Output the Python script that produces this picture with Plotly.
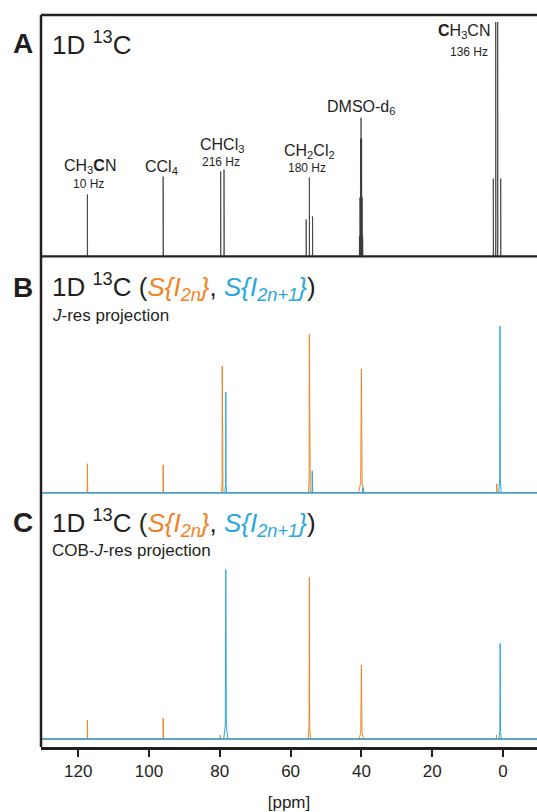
import plotly.graph_objects as go

# ---------------- data ----------------
x_ticks = [120, 100, 80, 60, 40, 20, 0]
x_tick_labels = ["120", "100", "80", "60", "40", "20", "0"]

# Panel A : 1D 13C spectrum (ppm, relative intensity, half line width in ppm)
a_ppm = [117.4, 96.0, 79.75, 78.8, 55.6, 54.7, 53.8,
         40.55, 40.4, 40.25, 40.1, 39.95, 39.8, 39.65,
         2.74, 2.06, 1.50, 0.65]
a_int = [62, 80, 85, 87, 37, 79, 40,
         20, 59, 118, 139, 118, 59, 20,
         78, 235, 235, 78]
a_wid = [0.06, 0.06, 0.06, 0.06, 0.06, 0.06, 0.06,
         0.08, 0.08, 0.08, 0.08, 0.08, 0.08, 0.08,
         0.06, 0.06, 0.06, 0.06]

# Panel B : J-res projection, S{I_2n} (orange) and S{I_2n+1} (blue)
b_or_ppm = [117.4, 96.0, 79.3, 54.7, 40.0, 1.75]
b_or_int = [29, 28, 127, 159, 124, 9]
b_or_wid = [0.1, 0.1, 0.2, 0.25, 0.8, 0.1]
b_bl_ppm = [78.3, 53.9, 39.6, 0.85]
b_bl_int = [101, 22, 5, 167]
b_bl_wid = [0.3, 0.15, 0.4, 0.35]

# Panel C : COB-J-res projection
c_or_ppm = [117.4, 96.0, 79.9, 54.7, 40.0, 1.85]
c_or_int = [19, 21, 4, 162, 74, 4]
c_or_wid = [0.1, 0.1, 0.2, 0.35, 0.7, 0.1]
c_bl_ppm = [78.3, 0.8]
c_bl_int = [170, 96]
c_bl_wid = [0.6, 0.35]

# peak labels in panel A
lab_text = ["CH<sub>3</sub><b>C</b>N", "CCl<sub>4</sub>", "CHCl<sub>3</sub>",
            "CH<sub>2</sub>Cl<sub>2</sub>", "DMSO-d<sub>6</sub>"]
lab_ppm = [116.7, 96.6, 79.4, 54.8, 40.1]
lab_ypx = [167, 168, 146, 152, 108]
j_text = ["10 Hz", "216 Hz", "180 Hz"]
j_ppm = [117.0, 79.7, 55.4]
j_ypx = [184, 162, 168]

# ---------------- styling ----------------
ORANGE = "#F08424"
BLUE = "#29A8E0"
INK = "#231F20"
FONT = "Liberation Sans, Arial, Helvetica, sans-serif"
X_RANGE = [130.5, -9.6]

W, H = 537, 812
L, R, T, B = 41, 0, 15, 63
PH = H - T - B


def py(ypx):
    # ypx: page pixel row -> paper fraction
    return (H - B - ypx) / PH


def pxx(xpx):
    return (xpx - L) / (W - L - R)


def spectrum(ppm, inten, wid):
    xs, ys = [], []
    for p, h, w in zip(ppm, inten, wid):
        xs += [p + w, p + w * 0.25, p, p - w * 0.25, p - w, None]
        ys += [0, h * 0.08, h, h * 0.08, 0, None]
    return xs, ys


fig = go.Figure()


def add_spec(ppm, inten, wid, color, yaxis, lw=1.0, base_w=1.5, base_color=None):
    fig.add_trace(go.Scatter(x=X_RANGE, y=[0, 0], mode="lines", yaxis=yaxis,
                             line=dict(color=base_color or color, width=base_w),
                             hoverinfo="skip", showlegend=False))
    xs, ys = spectrum(ppm, inten, wid)
    fig.add_trace(go.Scatter(x=xs, y=ys, mode="lines", yaxis=yaxis,
                             line=dict(color=color, width=lw),
                             hoverinfo="skip", showlegend=False))


add_spec(a_ppm, a_int, a_wid, "#3a3a3a", "y", lw=0.8, base_w=2.2, base_color="#222222")
add_spec(b_or_ppm, b_or_int, b_or_wid, ORANGE, "y2")
add_spec(b_bl_ppm, b_bl_int, b_bl_wid, BLUE, "y2")
add_spec(c_or_ppm, c_or_int, c_or_wid, ORANGE, "y3")
add_spec(c_bl_ppm, c_bl_int, c_bl_wid, BLUE, "y3")

dC = [0, py(497)]
dB = [py(497), py(260)]
dA = [py(260), 1]

fig.update_layout(
    width=W, height=H,
    margin=dict(l=L, r=R, t=T, b=B),
    paper_bgcolor="white", plot_bgcolor="white",
    font=dict(family=FONT, color=INK),
    xaxis=dict(range=X_RANGE, anchor="y3", showgrid=False, zeroline=False,
               showline=True, linewidth=2.5, linecolor=INK,
               ticks="outside", ticklen=7, tickwidth=2, tickcolor=INK,
               tickvals=x_ticks, ticktext=x_tick_labels,
               tickfont=dict(size=17, color=INK, family=FONT),
               title=dict(text="[ppm]", font=dict(size=17, color=INK, family=FONT),
                          standoff=19)),
    yaxis=dict(domain=dA, range=[-3, 242], visible=False, anchor="x"),
    yaxis2=dict(domain=dB, range=[-3, 234], visible=False, anchor="x"),
    yaxis3=dict(domain=dC, range=[-8, 244], visible=False, anchor="x"),
    shapes=[
        dict(type="line", xref="paper", yref="paper", x0=0, x1=0, y0=0, y1=1,
             line=dict(color=INK, width=2.5)),
        dict(type="line", xref="paper", yref="paper", x0=0, x1=1, y0=1, y1=1,
             line=dict(color=INK, width=2.5)),
    ],
)

ann = []
# panel letters
for letter, ypx in zip(["A", "B", "C"], [44, 288, 524]):
    ann.append(dict(text="<b>%s</b>" % letter, xref="paper", yref="paper",
                    x=pxx(23), y=py(ypx), xanchor="center", yanchor="middle",
                    showarrow=False, font=dict(size=28, color=INK, family=FONT)))
# titles
ann.append(dict(text="1D <sup>13</sup>C", xref="paper", yref="paper",
                x=pxx(50), y=py(44), xanchor="left", yanchor="middle",
                showarrow=False, font=dict(size=26, color=INK, family=FONT)))
title_bc = ("1D <sup>13</sup>C (<span style='color:%s'><i>S{I<sub>2n</sub>}</i></span>, "
            "<span style='color:%s'><i>S{I<sub>2n+1</sub>}</i></span>)" % (ORANGE, BLUE))
for ypx in [288, 524]:
    ann.append(dict(text=title_bc, xref="paper", yref="paper",
                    x=pxx(50), y=py(ypx), xanchor="left", yanchor="middle",
                    showarrow=False, font=dict(size=26, color=INK, family=FONT)))
ann.append(dict(text="<i>J</i>-res projection", xref="paper", yref="paper",
                x=pxx(50), y=py(316), xanchor="left", yanchor="middle",
                showarrow=False, font=dict(size=17, color=INK, family=FONT)))
ann.append(dict(text="COB-<i>J</i>-res projection", xref="paper", yref="paper",
                x=pxx(50), y=py(552), xanchor="left", yanchor="middle",
                showarrow=False, font=dict(size=17, color=INK, family=FONT)))
# peak labels
for t, p, ypx in zip(lab_text, lab_ppm, lab_ypx):
    ann.append(dict(text=t, xref="x", yref="paper", x=p, y=py(ypx),
                    xanchor="center", yanchor="middle", showarrow=False,
                    font=dict(size=16, color=INK, family=FONT)))
for t, p, ypx in zip(j_text, j_ppm, j_ypx):
    ann.append(dict(text=t, xref="x", yref="paper", x=p, y=py(ypx),
                    xanchor="center", yanchor="middle", showarrow=False,
                    font=dict(size=12, color=INK, family=FONT)))
ann.append(dict(text="<b>C</b>H<sub>3</sub>CN", xref="x", yref="paper", x=3.1, y=py(32),
                xanchor="right", yanchor="middle", showarrow=False,
                font=dict(size=16, color=INK, family=FONT)))
ann.append(dict(text="136 Hz", xref="x", yref="paper", x=3.7, y=py(52),
                xanchor="right", yanchor="middle", showarrow=False,
                font=dict(size=12, color=INK, family=FONT)))
fig.update_layout(annotations=ann)

fig.write_html(
    "out.html",
    config={"displayModeBar": False},
    post_script="document.body.style.margin='0';document.body.style.overflow='hidden';",
)
